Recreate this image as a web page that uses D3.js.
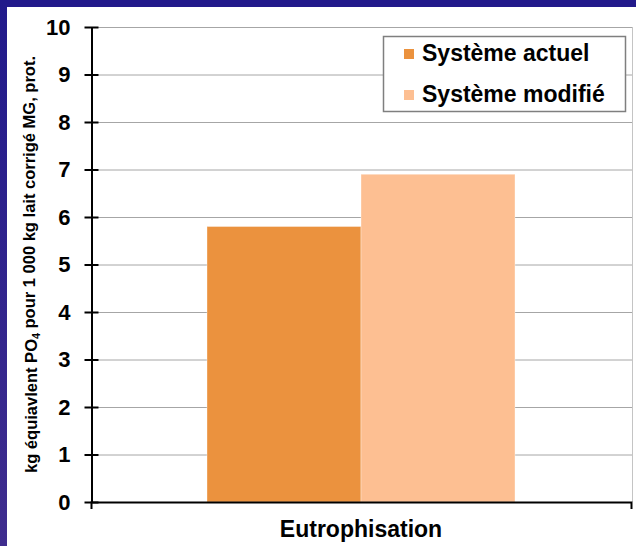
<!DOCTYPE html>
<html>
<head>
<meta charset="utf-8">
<script src="https://cdn.jsdelivr.net/npm/d3@7"></script>
<style>
  html, body { margin: 0; padding: 0; background: #fff; }
  svg { display: block; font-family: "Liberation Sans", Arial, sans-serif; }
</style>
</head>
<body>
<svg id="chart" width="636" height="546"></svg>
<script>
// Impact category and the two production systems compared
const categories = ["Eutrophisation"];
const seriesNames = ["Système actuel", "Système modifié"];
const seriesValues = [5.8, 6.9];
const seriesColors = ["#EB923E", "#FDBF92"];
const yTicks = [0, 1, 2, 3, 4, 5, 6, 7, 8, 9, 10];
const yTitle = ["kg équiavlent PO", "4", " pour 1 000 kg lait corrigé MG, prot."];

const W = 636, H = 546;
const svg = d3.select("#chart");

// slide frame: blue band along top and left edges
const defs = svg.append("defs");
const grad = defs.append("linearGradient")
  .attr("id", "frameGrad").attr("x1", 0).attr("y1", 0).attr("x2", 0).attr("y2", 1);
grad.append("stop").attr("offset", "0%").attr("stop-color", "#211a8b");
grad.append("stop").attr("offset", "100%").attr("stop-color", "#3f2d8e");

svg.append("rect").attr("width", W).attr("height", H).attr("fill", "#fff");
svg.append("rect").attr("x", 0).attr("y", 0).attr("width", W).attr("height", 7).attr("fill", "#221a8b");
svg.append("rect").attr("x", 0).attr("y", 0).attr("width", 7).attr("height", H).attr("fill", "url(#frameGrad)");

// scales
const y = d3.scaleLinear().domain([0, 10]).range([502, 27]);
const x = d3.scaleBand().domain(categories).range([91, 631]).paddingInner(0).paddingOuter(0.3766);
const xs = d3.scaleBand().domain(seriesNames).range([0, x.bandwidth()]);

// gridlines
svg.append("g").selectAll("line")
  .data(yTicks.filter(d => d > 0))
  .join("line")
  .attr("x1", 98).attr("x2", 632)
  .attr("y1", d => y(d) + 0.5).attr("y2", d => y(d) + 0.5)
  .attr("stroke", "#a6a6a6").attr("stroke-width", 1);

// right border of the plot area
svg.append("line")
  .attr("x1", 632.5).attr("x2", 632.5).attr("y1", y(10)).attr("y2", y(0))
  .attr("stroke", "#c4c4c4").attr("stroke-width", 1);

// bars
svg.append("g").selectAll("rect")
  .data(seriesNames.map((s, i) => ({ cat: categories[0], s, v: seriesValues[i], c: seriesColors[i] })))
  .join("rect")
  .attr("x", d => x(d.cat) + xs(d.s))
  .attr("y", d => y(d.v))
  .attr("width", xs.bandwidth())
  .attr("height", d => y(0) - y(d.v))
  .attr("fill", d => d.c)
  .attr("stroke", "rgba(255,255,255,0.35)")
  .attr("stroke-width", 1);

// y axis, ticks crossing the axis line
const yAxis = svg.append("g")
  .attr("transform", "translate(91.5,0)")
  .call(d3.axisLeft(y).tickValues(yTicks).tickFormat(d3.format("d"))
    .tickSizeInner(7).tickSizeOuter(0).tickPadding(14));
yAxis.selectAll(".tick line").attr("x1", 7).attr("stroke", "#000").attr("stroke-width", 2);
yAxis.select(".domain").attr("stroke", "#000").attr("stroke-width", 2);
yAxis.selectAll(".tick text")
  .attr("font-size", 22).attr("font-weight", "bold").attr("fill", "#000")
  .attr("font-family", "'Liberation Sans', Arial, sans-serif");

// x axis with end ticks at the category boundaries
const xAxis = svg.append("g")
  .attr("transform", "translate(0,502)")
  .call(d3.axisBottom(x).tickSizeInner(0).tickSizeOuter(7).tickPadding(19));
xAxis.select(".domain").attr("stroke", "#000").attr("stroke-width", 2);
xAxis.selectAll(".tick text")
  .attr("font-size", 23).attr("font-weight", "bold").attr("fill", "#000")
  .attr("font-family", "'Liberation Sans', Arial, sans-serif");

// y axis title with subscript
const yt = svg.append("text")
  .attr("transform", "translate(37,264.5) rotate(-90)")
  .attr("text-anchor", "middle")
  .attr("font-family", "'Liberation Sans Narrow', 'Liberation Sans', Arial, sans-serif")
  .attr("font-size", 17).attr("font-weight", "bold").attr("fill", "#000")
  .attr("textLength", 417).attr("lengthAdjust", "spacingAndGlyphs");
yt.append("tspan").text(yTitle[0]);
yt.append("tspan").attr("dy", "0.3em").attr("font-size", 11).text(yTitle[1]);
yt.append("tspan").attr("dy", "-0.3em").text(yTitle[2]);

// legend
const lg = svg.append("g");
lg.append("rect")
  .attr("x", 383.5).attr("y", 36.5).attr("width", 242).attr("height", 75)
  .attr("fill", "#fff").attr("stroke", "#7f7f7f").attr("stroke-width", 1.5);
const items = lg.selectAll("g.item")
  .data(seriesNames)
  .join("g").attr("class", "item")
  .attr("transform", (d, i) => `translate(404,${49 + i * 41})`);
items.append("rect").attr("width", 10).attr("height", 10)
  .attr("fill", (d, i) => seriesColors[i]);
items.append("text")
  .attr("x", 18).attr("y", 12)
  .attr("font-size", 23).attr("font-weight", "bold").attr("fill", "#000")
  .text(d => d);
</script>
</body>
</html>
